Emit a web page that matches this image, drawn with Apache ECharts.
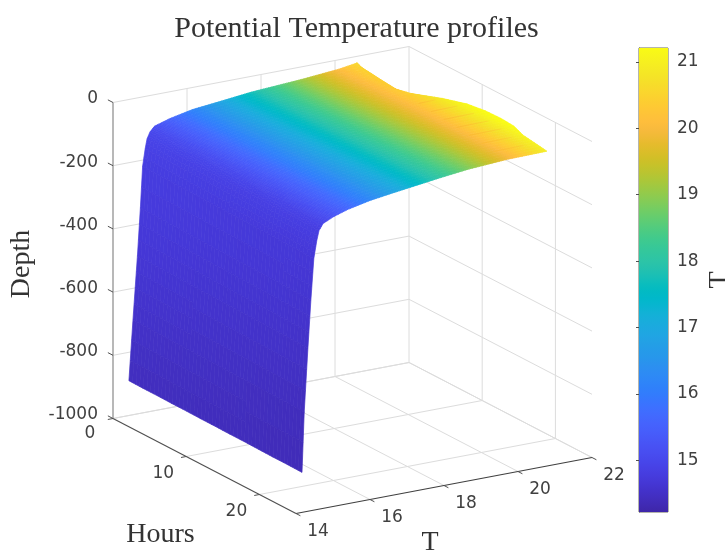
<!DOCTYPE html>
<html><head><meta charset="utf-8">
<style>html,body{margin:0;padding:0;background:#fff}#c{width:725px;height:554px}</style>
<script src="https://cdn.jsdelivr.net/npm/echarts@6/dist/echarts.min.js"></script>
</head><body><div id="c"></div>
<script>
// ---------- data ----------
const chartTitle = 'Potential Temperature profiles';
const tempTicks = [14, 16, 18, 20, 22];
const hourTicks = [0, 10, 20];
const depthTicks = [0, -200, -400, -600, -800, -1000];
const colorbarTicks = [15, 16, 17, 18, 19, 20, 21];
const hours = [0, 2, 4, 6, 8, 10, 12, 14, 16, 18, 20, 22, 24];
const depths = [-20, -22, -30, -40, -50, -60, -70, -85, -100, -115, -135, -165, -220, -350, -500, -700, -890];
// potential temperature at each depth, one value per entry of hours
const tempAt20  = [20.60, 20.42, 20.30, 20.30, 20.50, 20.92, 21.20, 21.30, 21.32, 21.28, 21.12, 21.05, 20.98];
const tempAt22  = [20.55, 20.50, 20.44, 20.39, 20.33, 20.28, 20.22, 20.17, 20.12, 20.06, 20.01, 19.95, 19.90];
const tempAt30  = [20.10, 20.00, 19.89, 19.79, 19.68, 19.58, 19.48, 19.37, 19.27, 19.16, 19.06, 18.95, 18.85];
const tempAt40  = [19.10, 19.02, 18.93, 18.85, 18.77, 18.68, 18.60, 18.52, 18.43, 18.35, 18.27, 18.18, 18.10];
const tempAt50  = [17.75, 17.72, 17.70, 17.67, 17.65, 17.63, 17.60, 17.57, 17.55, 17.52, 17.50, 17.47, 17.45];
const tempAt60  = [16.97, 16.96, 16.94, 16.93, 16.91, 16.90, 16.89, 16.87, 16.86, 16.84, 16.83, 16.81, 16.80];
const tempAt70  = [16.15, 16.15, 16.16, 16.16, 16.17, 16.17, 16.17, 16.18, 16.18, 16.19, 16.19, 16.20, 16.20];
const tempAt85  = [15.54, 15.55, 15.55, 15.56, 15.56, 15.57, 15.57, 15.58, 15.58, 15.59, 15.59, 15.60, 15.60];
const tempAt100 = [15.12, 15.13, 15.13, 15.14, 15.15, 15.15, 15.16, 15.17, 15.17, 15.18, 15.19, 15.19, 15.20];
const tempAt115 = [15.00, 14.99, 14.99, 14.98, 14.98, 14.97, 14.97, 14.96, 14.95, 14.95, 14.94, 14.94, 14.93];
const tempAt135 = [14.92, 14.91, 14.90, 14.90, 14.89, 14.88, 14.87, 14.86, 14.85, 14.85, 14.84, 14.83, 14.82];
const tempAt165 = [14.87, 14.86, 14.85, 14.84, 14.83, 14.82, 14.81, 14.81, 14.80, 14.79, 14.78, 14.77, 14.76];
const tempAt220 = [14.80, 14.79, 14.78, 14.77, 14.76, 14.75, 14.74, 14.73, 14.72, 14.71, 14.70, 14.69, 14.68];
const tempAt350 = [14.74, 14.73, 14.72, 14.71, 14.70, 14.68, 14.67, 14.66, 14.65, 14.64, 14.63, 14.61, 14.60];
const tempAt500 = [14.66, 14.65, 14.64, 14.63, 14.61, 14.60, 14.59, 14.58, 14.57, 14.56, 14.55, 14.53, 14.52];
const tempAt700 = [14.54, 14.53, 14.52, 14.51, 14.50, 14.49, 14.48, 14.47, 14.46, 14.45, 14.44, 14.43, 14.42];
const tempAt890 = [14.43, 14.42, 14.42, 14.41, 14.41, 14.40, 14.40, 14.39, 14.39, 14.38, 14.37, 14.37, 14.36];
const tempByDepth = [tempAt20, tempAt22, tempAt30, tempAt40, tempAt50, tempAt60, tempAt70, tempAt85, tempAt100, tempAt115, tempAt135, tempAt165, tempAt220, tempAt350, tempAt500, tempAt700, tempAt890];

// ---------- library setup ----------
const PARULA = [[.2422,.1504,.6603],[.2504,.1650,.7076],[.2578,.1818,.7511],[.2647,.1978,.7952],[.2706,.2147,.8364],[.2751,.2342,.8710],[.2783,.2559,.8991],[.2803,.2782,.9221],[.2813,.3006,.9414],[.2810,.3228,.9579],[.2795,.3447,.9717],[.2760,.3667,.9829],[.2699,.3892,.9906],[.2602,.4123,.9952],[.2440,.4358,.9988],[.2206,.4603,.9973],[.1963,.4847,.9892],[.1834,.5074,.9798],[.1786,.5289,.9682],[.1764,.5499,.9520],[.1687,.5703,.9359],[.1540,.5902,.9218],[.1460,.6091,.9079],[.1380,.6276,.8973],[.1248,.6459,.8883],[.1113,.6635,.8763],[.0952,.6798,.8598],[.0689,.6948,.8394],[.0297,.7082,.8163],[.0036,.7203,.7917],[.0067,.7312,.7660],[.0433,.7411,.7394],[.0964,.7500,.7120],[.1408,.7584,.6842],[.1717,.7670,.6554],[.1938,.7758,.6251],[.2161,.7843,.5923],[.2470,.7918,.5567],[.2906,.7973,.5188],[.3406,.8008,.4789],[.3909,.8029,.4354],[.4456,.8024,.3909],[.5044,.7993,.3480],[.5616,.7942,.3045],[.6174,.7876,.2612],[.6720,.7793,.2227],[.7242,.7698,.1910],[.7738,.7598,.1646],[.8203,.7498,.1535],[.8634,.7406,.1596],[.9035,.7330,.1774],[.9393,.7288,.2100],[.9728,.7298,.2394],[.9956,.7434,.2371],[.9970,.7659,.2199],[.9952,.7893,.2028],[.9892,.8136,.1885],[.9786,.8386,.1766],[.9676,.8639,.1643],[.9610,.8890,.1537],[.9597,.9135,.1423],[.9628,.9373,.1265],[.9691,.9606,.1064],[.9769,.9839,.0805]];
const cMin = 14.22, cMax = 21.21;
function parula(t){
  let f = (t - cMin) / (cMax - cMin); f = Math.max(0, Math.min(1, f)) * (PARULA.length - 1);
  const a = Math.floor(f), b = Math.min(a + 1, PARULA.length - 1), w = f - a;
  const c = [0,1,2].map(k => Math.round(255 * (PARULA[a][k] * (1 - w) + PARULA[b][k] * w)));
  return 'rgb(' + c.join(',') + ')';
}
function ramp(t0, t1, n){
  const s = [];
  for (let i = 0; i <= n; i++) s.push({offset: i / n, color: parula(t0 + (t1 - t0) * i / n)});
  return s;
}
// 3D box projection: temperature 14-22, hours 0-25, depth -1000-0
const tRange = [14, 22], hRange = [0, 25], zRange = [-1000, 0];
const origin = [113, 418.5], tVec = [296, -56], hVec = [183, 95], zVec = [0, -316];
function project(T, H, z){
  const a = (T - tRange[0]) / (tRange[1] - tRange[0]), b = (H - hRange[0]) / (hRange[1] - hRange[0]), c = (z - zRange[0]) / (zRange[1] - zRange[0]);
  return [origin[0] + a * tVec[0] + b * hVec[0] + c * zVec[0], origin[1] + a * tVec[1] + b * hVec[1] + c * zVec[1]];
}
// wall + floor grid
const gridSegs = [];
depthTicks.forEach(z => {
  gridSegs.push([[tRange[0], 0, z], [tRange[1], 0, z]]);
  gridSegs.push([[tRange[1], 0, z], [tRange[1], hRange[1], z]]);
});
tempTicks.slice(1).forEach(T => {
  gridSegs.push([[T, 0, zRange[0]], [T, 0, zRange[1]]]);
  gridSegs.push([[T, 0, zRange[0]], [T, hRange[1], zRange[0]]]);
});
hourTicks.forEach(H => {
  gridSegs.push([[tRange[0], H, zRange[0]], [tRange[1], H, zRange[0]]]);
  if (H > 0) gridSegs.push([[tRange[1], H, zRange[0]], [tRange[1], H, zRange[1]]]);
});
// axes and ticks
const axisSegs = [
  {a: [14, 0, -1000], b: [14, 0, 0], c: '#9a9a9a', w: 1.4},
  {a: [14, 0, -1000], b: [14, hRange[1], -1000], c: '#505050', w: 1.2},
  {a: [14, hRange[1], -1000], b: [22, hRange[1], -1000], c: '#404040', w: 1.2}
];
depthTicks.forEach(z => axisSegs.push({a: [14, 0, z], b: [14, -0.7, z], c: '#505050', w: 1}));
hourTicks.forEach(H => axisSegs.push({a: [14, H, -1000], b: [13.86, H, -1000], c: '#505050', w: 1}));
tempTicks.forEach(T => axisSegs.push({a: [T, hRange[1], -1000], b: [T, hRange[1] + 0.6, -1000], c: '#505050', w: 1}));
// tick labels
const tickLabels = [];
depthTicks.forEach(z => tickLabels.push({p: [14, 0, z], dx: -15, dy: -3.5, t: String(z), align: 'right'}));
hourTicks.forEach(H => tickLabels.push({p: [14, H, -1000], dx: -23, dy: H === 0 ? 15 : 17, t: String(H), align: 'center'}));
tempTicks.forEach(T => tickLabels.push({p: [T, hRange[1], -1000], dx: 22, dy: 18, t: String(T), align: 'center'}));

const cells = [];
for (let i = 0; i < hours.length - 1; i++) for (let j = 0; j < depths.length - 1; j++) cells.push([i, j]);

// interpolated shading of one surface cell
function renderCell(params, api){
  const i = api.value(0), j = api.value(1);
  const T00 = tempByDepth[j][i], T10 = tempByDepth[j][i + 1], T01 = tempByDepth[j + 1][i], T11 = tempByDepth[j + 1][i + 1];
  const ni = 4, nj = Math.min(30, Math.max(1, Math.ceil(Math.max(Math.abs(T01 - T00), Math.abs(T11 - T10)) / 0.04)));
  const val = (u, v) => (T00 * (1 - u) + T10 * u) * (1 - v) + (T01 * (1 - u) + T11 * u) * v;
  const pt = (u, v) => api.coord(project(val(u, v), hours[i] + (hours[i + 1] - hours[i]) * u, depths[j] + (depths[j + 1] - depths[j]) * v));
  const children = [];
  for (let a = 0; a < ni; a++) for (let b = 0; b < nj; b++) {
    const c = parula(val((a + .5) / ni, (b + .5) / nj));
    children.push({type: 'polygon', shape: {points: [pt(a / ni, b / nj), pt((a + 1) / ni, b / nj), pt((a + 1) / ni, (b + 1) / nj), pt(a / ni, (b + 1) / nj)]},
      style: {fill: c, stroke: c, lineWidth: 0.7}});
  }
  return {type: 'group', children};
}
function renderSeg(color, width){
  return function(params, api){
    const s = gridSegs[params.dataIndex];
    const a = api.coord(project(s[0][0], s[0][1], s[0][2])), b = api.coord(project(s[1][0], s[1][1], s[1][2]));
    return {type: 'line', shape: {x1: a[0], y1: a[1], x2: b[0], y2: b[1]}, style: {stroke: color, lineWidth: width}};
  };
}
const SERIF = '"Liberation Serif", serif';
const option = {
  backgroundColor: '#fff',
  animation: false,
  title: {text: chartTitle, left: 351.5, top: 9, textAlign: 'center',
    textStyle: {fontFamily: SERIF, fontWeight: 'normal', fontSize: 30, color: '#333'}},
  grid: [
    {left: 0, top: 0, width: 725, height: 554, show: false, outerBoundsMode: 'none'},
    {left: 639, top: 48, width: 29, height: 464, show: true, borderColor: '#6a6a5a', borderWidth: 1, backgroundColor: 'transparent', outerBoundsMode: 'none'}
  ],
  xAxis: [
    {gridIndex: 0, type: 'value', min: 0, max: 725, show: false},
    {gridIndex: 1, type: 'value', min: 0, max: 1, show: false}
  ],
  yAxis: [
    {gridIndex: 0, type: 'value', min: 0, max: 554, inverse: true, show: false},
    {gridIndex: 1, type: 'value', min: cMin, max: cMax, position: 'right',
      name: 'T', nameLocation: 'middle', nameGap: 38, nameRotate: 90,
      nameTextStyle: {fontFamily: SERIF, fontSize: 28, color: '#333'},
      axisLine: {show: true, lineStyle: {color: '#6a6a5a', width: 1}},
      axisTick: {show: true, inside: true, length: 3, lineStyle: {color: '#505050'}, customValues: colorbarTicks},
      axisLabel: {show: true, margin: 9, fontFamily: 'DejaVu Sans', fontSize: 17, color: '#404040',
        customValues: colorbarTicks, formatter: v => String(v)},
      splitLine: {show: false}}
  ],
  series: [
    {type: 'custom', name: 'grid', coordinateSystem: 'cartesian2d', xAxisIndex: 0, yAxisIndex: 0, silent: true, z: 1,
      data: gridSegs.map((s, i) => [i, 0]), renderItem: renderSeg('#dcdcdc', 1)},
    {type: 'custom', name: 'Potential temperature', coordinateSystem: 'cartesian2d', xAxisIndex: 0, yAxisIndex: 0, silent: true, z: 2,
      data: cells, renderItem: renderCell},
    {type: 'custom', name: 'mesh stripes', coordinateSystem: 'cartesian2d', xAxisIndex: 0, yAxisIndex: 0, silent: true, z: 2.5,
      data: hours.map((h, i) => [i, 0]).filter(d => hours[d[0]] >= 10 && hours[d[0]] < 24),
      renderItem(params, api){
        const i = api.value(0), H = hours[i], Tf = tempAt22[i], Tt = tempAt20[i];
        const a = api.coord(project(Tf, H, -22)), b = api.coord(project(Tf + (Tt - Tf) * 0.72, H, -20.6));
        return {type: 'line', shape: {x1: a[0], y1: a[1], x2: b[0], y2: b[1]},
          style: {stroke: {type: 'linear', global: true, x: a[0], y: a[1], x2: b[0], y2: b[1],
            colorStops: [{offset: 0, color: 'rgba(250,185,50,0.9)'}, {offset: 1, color: 'rgba(250,195,50,0.35)'}]}, lineWidth: 1}};
      }},
    {type: 'custom', name: 'axes', coordinateSystem: 'cartesian2d', xAxisIndex: 0, yAxisIndex: 0, silent: true, z: 3,
      data: axisSegs.map((s, i) => [i, 0]),
      renderItem(params, api){
        const s = axisSegs[params.dataIndex];
        const a = api.coord(project(s.a[0], s.a[1], s.a[2])), b = api.coord(project(s.b[0], s.b[1], s.b[2]));
        return {type: 'line', shape: {x1: a[0], y1: a[1], x2: b[0], y2: b[1]}, style: {stroke: s.c, lineWidth: s.w}};
      }},
    {type: 'custom', name: 'tickLabels', coordinateSystem: 'cartesian2d', xAxisIndex: 0, yAxisIndex: 0, silent: true, z: 4,
      data: tickLabels.map((s, i) => [i, 0]),
      renderItem(params, api){
        const s = tickLabels[params.dataIndex];
        const a = api.coord(project(s.p[0], s.p[1], s.p[2]));
        return {type: 'text', style: {text: s.t, x: a[0] + s.dx, y: a[1] + s.dy, align: s.align, verticalAlign: 'middle',
          fontFamily: 'DejaVu Sans', fontSize: 17, fill: '#404040'}};
      }},
    {type: 'custom', name: 'colorbar', coordinateSystem: 'cartesian2d', xAxisIndex: 1, yAxisIndex: 1, silent: true, z: 1,
      data: [[0, cMin]],
      renderItem(params, api){
        const a = api.coord([0, cMin]), b = api.coord([1, cMax]);
        return {type: 'rect', shape: {x: a[0], y: b[1], width: b[0] - a[0], height: a[1] - b[1]},
          style: {fill: {type: 'linear', x: 0, y: 1, x2: 0, y2: 0, colorStops: ramp(cMin, cMax, 63)}}};
      }}
  ],
  graphic: [
    {type: 'text', x: 22, y: 264, rotation: Math.PI / 2, style: {text: 'Depth', align: 'center', verticalAlign: 'middle', fontFamily: SERIF, fontSize: 28, fill: '#333'}},
    {type: 'text', x: 160.5, y: 535, style: {text: 'Hours', align: 'center', verticalAlign: 'middle', fontFamily: SERIF, fontSize: 28, fill: '#333'}},
    {type: 'text', x: 430, y: 543, style: {text: 'T', align: 'center', verticalAlign: 'middle', fontFamily: SERIF, fontSize: 28, fill: '#333'}}
  ]
};
const chart = echarts.init(document.getElementById('c'), null, {renderer: 'canvas', width: 725, height: 554});
chart.setOption(option);
</script></body></html>
